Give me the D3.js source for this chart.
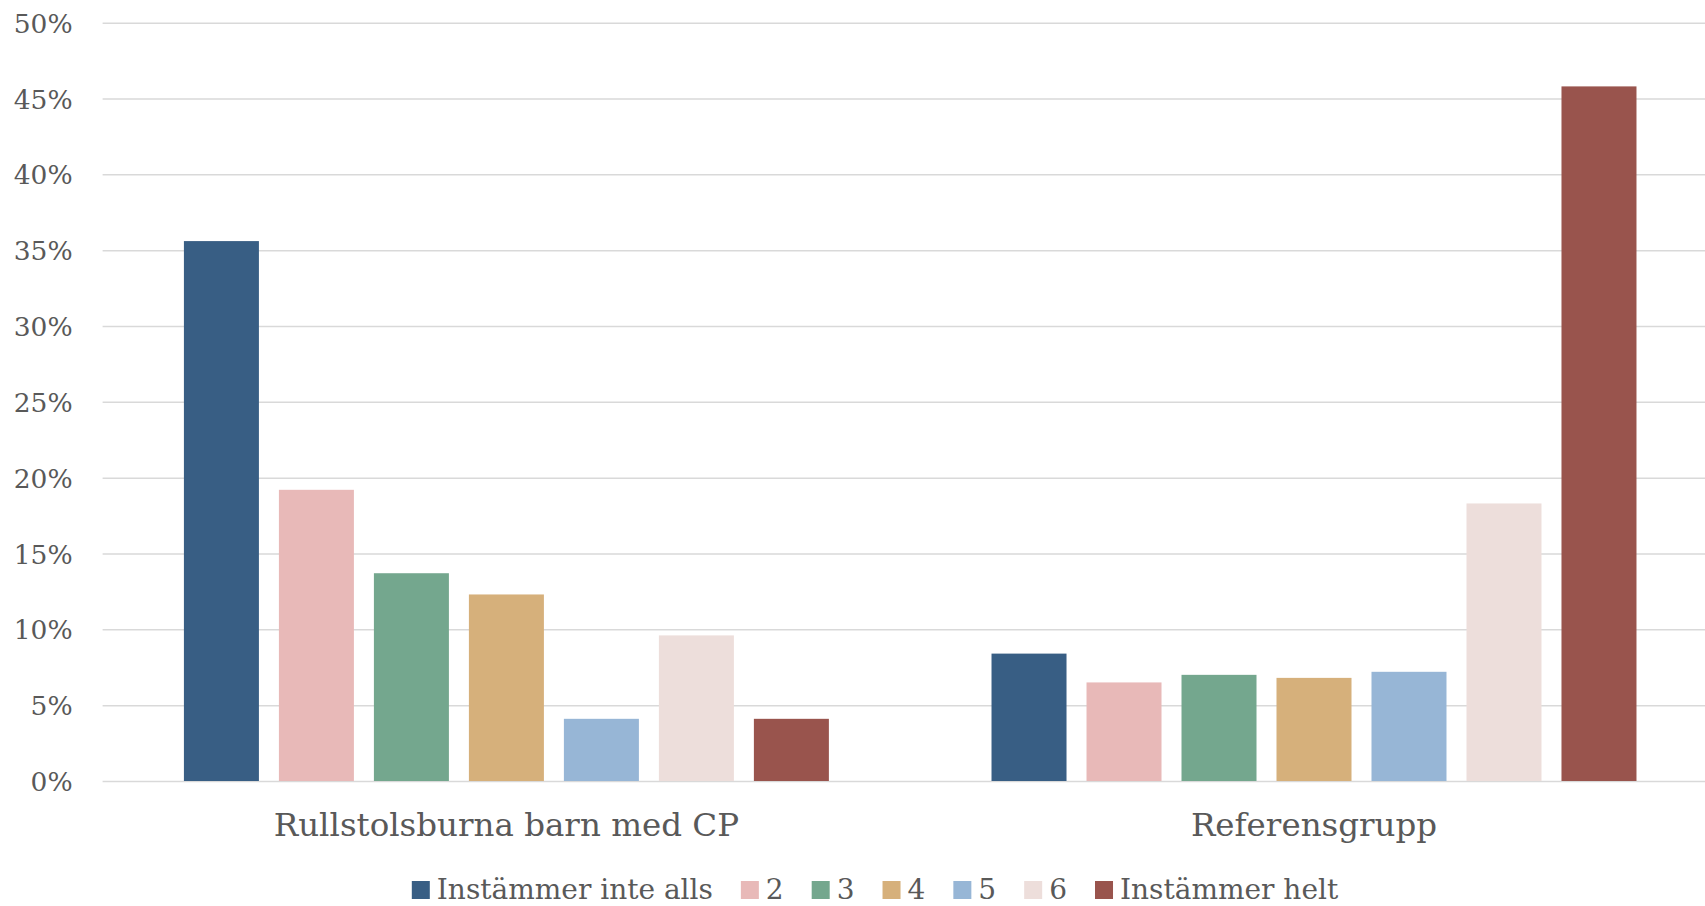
<!DOCTYPE html>
<html>
<head>
<meta charset="utf-8">
<script src="https://cdn.jsdelivr.net/npm/d3@7"></script>
<style>
  html, body { margin: 0; padding: 0; background: #ffffff; }
  svg { display: block; }
</style>
</head>
<body>
<svg id="chart" width="1705" height="906"></svg>
<script>
// ---- data ----
const categories = ["Rullstolsburna barn med CP", "Referensgrupp"];
const seriesNames = ["Instämmer inte alls", "2", "3", "4", "5", "6", "Instämmer helt"];
const cpValues  = [35.6, 19.2, 13.7, 12.3, 4.1, 9.6, 4.1];
const refValues = [8.4, 6.5, 7.0, 6.8, 7.2, 18.3, 45.8];
const yTicks = [0, 5, 10, 15, 20, 25, 30, 35, 40, 45, 50];
const seriesColors = ["#385E84", "#E8B9B8", "#74A78E", "#D6B07B", "#97B6D6", "#EDDEDB", "#99544D"];

const valuesByCategory = [cpValues, refValues];

// ---- layout ----
const plotLeft = 102.6, plotRight = 1717.8, plotTop = 22.7, plotBottom = 781;
const FONT = "'DejaVu Serif', 'Liberation Serif', serif";
const TEXT = "#595959";

const svg = d3.select("#chart");

const x0 = d3.scaleBand().domain(categories).range([plotLeft, plotRight]).paddingInner(0).paddingOuter(0);
const x1 = d3.scaleBand().domain(seriesNames).range([0, x0.bandwidth()])
  .paddingInner(0.2105).paddingOuter(0.856);
const y = d3.scaleLinear().domain([0, 50]).range([plotBottom, plotTop]);

// y axis + gridlines
const yAxis = d3.axisLeft(y)
  .tickValues(yTicks)
  .tickFormat(d => d + "%")
  .tickSizeInner(-(plotRight - plotLeft))
  .tickSizeOuter(0)
  .tickPadding(30);

const gy = svg.append("g").attr("transform", `translate(${plotLeft},0)`).call(yAxis);
gy.select(".domain").remove();
gy.selectAll(".tick line").attr("stroke", "#d9d9d9").attr("stroke-width", 1.5);
gy.selectAll(".tick text")
  .attr("font-family", FONT).attr("font-size", 26.5).attr("fill", TEXT)
  .attr("dy", "0.36em");

// bars
const groups = svg.append("g").selectAll("g")
  .data(categories)
  .join("g")
  .attr("transform", d => `translate(${x0(d)},0)`);

groups.selectAll("rect")
  .data((c, i) => seriesNames.map((s, j) => ({ s, j, v: valuesByCategory[i][j] })))
  .join("rect")
  .attr("x", d => x1(d.s))
  .attr("width", x1.bandwidth())
  .attr("y", d => y(d.v))
  .attr("height", d => y(0) - y(d.v))
  .attr("fill", d => seriesColors[d.j]);

// x axis (category labels)
const xAxis = d3.axisBottom(x0).tickSize(0).tickPadding(0);
const gx = svg.append("g").attr("transform", `translate(0,${plotBottom})`).call(xAxis);
gx.select(".domain").remove();
gx.selectAll(".tick text")
  .attr("font-family", FONT).attr("font-size", 32.5).attr("fill", TEXT)
  .attr("y", 55).attr("dy", 0);

// legend
const legend = svg.append("g");
const sq = 18, gapText = 7, gapItem = 28;
let cx = 0;
const items = legend.selectAll("g").data(seriesNames).join("g");
items.append("rect")
  .attr("width", sq).attr("height", sq)
  .attr("y", -sq / 2 - 9)
  .attr("fill", (d, i) => seriesColors[i]);
items.append("text")
  .attr("x", sq + gapText)
  .attr("y", 0)
  .attr("font-family", FONT).attr("font-size", 28).attr("fill", TEXT)
  .text(d => d);
items.each(function () {
  const g = d3.select(this);
  g.attr("transform", `translate(${cx},0)`);
  const tw = g.select("text").node().getComputedTextLength();
  cx += sq + gapText + tw + gapItem;
});
const totalW = cx - gapItem;
const legendCenter = 875;
legend.attr("transform", `translate(${legendCenter - totalW / 2},899)`);
</script>
</body>
</html>
